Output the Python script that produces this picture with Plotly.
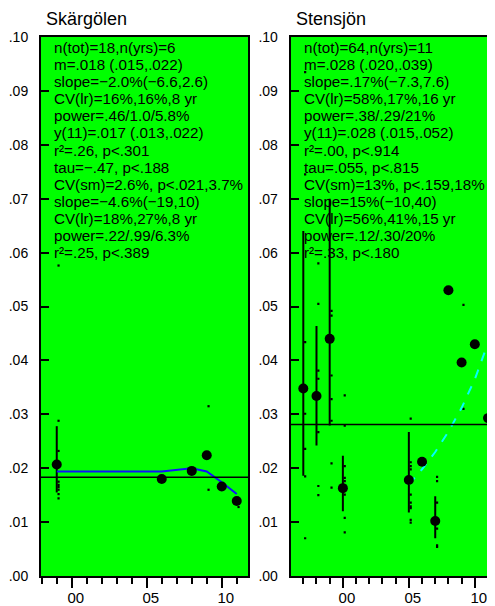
import plotly.graph_objects as go

# ---------------- data ----------------
titles = ["Skärgölen", "Stensjön"]

# Skärgölen (left)
years_L = [-1, 6, 8, 9, 10, 11]
means_L = [0.0207, 0.0180, 0.0195, 0.0224, 0.0166, 0.0139]
bar_years_L = [-1]
bar_lo_L = [0.0155]
bar_hi_L = [0.0278]
sample_years_L = [-1, -1, -1, -1, -1, -1, -1, -1, -1, -1, 9, 9, 11]
sample_vals_L = [0.0576, 0.0288, 0.0232, 0.0203, 0.0175, 0.0169, 0.0165, 0.0160, 0.0152, 0.0144,
                 0.0315, 0.0160, 0.0128]
smooth_years_L = [-1, 6, 8, 9, 10, 11]
smooth_vals_L = [0.0194, 0.0194, 0.0200, 0.0194, 0.0174, 0.0152]
grand_mean_L = 0.0183
stats_L = [
    "n(tot)=18,n(yrs)=6",
    "m=.018 (.015,.022)",
    "slope=−2.0%(−6.6,2.6)",
    "CV(lr)=16%,16%,8 yr",
    "power=.46/1.0/5.8%",
    "y(11)=.017 (.013,.022)",
    "r²=.26, p<.301",
    "tau=−.47, p<.188",
    "CV(sm)=2.6%, p<.021,3.7%",
    "slope=−4.6%(−19,10)",
    "CV(lr)=18%,27%,8 yr",
    "power=.22/.99/6.3%",
    "r²=.25, p<.389",
]

# Stensjön (right)
years_R = [-3, -2, -1, 0, 5, 6, 7, 8, 9, 10, 11]
means_R = [0.0348, 0.0334, 0.0440, 0.0163, 0.0178, 0.0212, 0.0102, 0.0530, 0.0396, 0.0430, 0.0293]
bar_years_R = [-3, -2, -1, 0, 5, 7]
bar_lo_R = [0.0186, 0.0242, 0.0279, 0.0120, 0.0118, 0.0070]
bar_hi_R = [0.0640, 0.0464, 0.0700, 0.0223, 0.0267, 0.0148]
sample_years_R = ([-3] * 7 + [-2] * 7 + [-1] * 7 + [0] * 8 + [5] * 10 + [7] * 6 + [9] * 2 + [11] * 2)
sample_vals_R = [
    0.0935, 0.0745, 0.0434, 0.0301, 0.0236, 0.0185, 0.0070,
    0.0580, 0.0505, 0.0381, 0.0366, 0.0267, 0.0167, 0.0150,
    0.0492, 0.0483, 0.0372, 0.0328, 0.0288, 0.0209, 0.0164,
    0.0335, 0.0279, 0.0204, 0.0182, 0.0176, 0.0151, 0.0108, 0.0081,
    0.0292, 0.0211, 0.0204, 0.0198, 0.0151, 0.0136, 0.0129, 0.0126, 0.0104, 0.0099,
    0.0184, 0.0176, 0.0136, 0.0088, 0.0057, 0.0054,
    0.0503, 0.0310,
    0.0343, 0.0251,
]
trend_years_R = [5, 6, 7, 8, 9, 10, 10.85]
trend_vals_R = [0.0170, 0.0198, 0.0230, 0.0268, 0.0312, 0.0365, 0.0422]
grand_mean_R = 0.0281
stats_R = [
    "n(tot)=64,n(yrs)=11",
    "m=.028 (.020,.039)",
    "slope=.17%(−7.3,7.6)",
    "CV(lr)=58%,17%,16 yr",
    "power=.38/.29/21%",
    "y(11)=.028 (.015,.052)",
    "r²=.00, p<.914",
    "tau=.055, p<.815",
    "CV(sm)=13%, p<.159,18%",
    "slope=15%(−10,40)",
    "CV(lr)=56%,41%,15 yr",
    "power=.12/.30/20%",
    "r²=.33, p<.180",
]

y_tickvals = [0.00, 0.01, 0.02, 0.03, 0.04, 0.05, 0.06, 0.07, 0.08, 0.09, 0.10]
y_ticktext = [".00", ".01", ".02", ".03", ".04", ".05", ".06", ".07", ".08", ".09", ".10"]
x_tickvals = [0, 5, 10]
x_ticktext = ["00", "05", "10"]
x_minorvals = list(range(-4, 13))

# ---------------- figure ----------------
# the page body has an 8px margin, so the figure is laid out in page coords minus 8
OFF = 8
W, H = 495 - OFF, 606 - OFF
FONT = "Liberation Sans, Arial, sans-serif"
GREEN = "#00ff00"

fig = go.Figure()


def seg_xy(xs, lo, hi):
    X, Y = [], []
    for x, a, b in zip(xs, lo, hi):
        X += [x, x, None]
        Y += [a, b, None]
    return X, Y


def add_panel(xa, ya, bar_years, lo, hi, s_years, s_vals, s_off, years, means,
              line_x, line_y, line_color, line_dash):
    bx, by = seg_xy(bar_years, lo, hi)
    fig.add_trace(go.Scatter(x=bx, y=by, mode="lines", line=dict(color="black", width=2),
                             xaxis=xa, yaxis=ya, hoverinfo="skip", showlegend=False))
    fig.add_trace(go.Scatter(x=[v + s_off for v in s_years], y=s_vals, mode="markers",
                             marker=dict(symbol="square", size=2.2, color="black", line=dict(width=0)),
                             xaxis=xa, yaxis=ya, showlegend=False))
    fig.add_trace(go.Scatter(x=line_x, y=line_y, mode="lines",
                             line=dict(color=line_color, width=2, dash=line_dash),
                             xaxis=xa, yaxis=ya, showlegend=False))
    fig.add_trace(go.Scatter(x=years, y=means, mode="markers",
                             marker=dict(symbol="circle", size=10, color="black", line=dict(width=0)),
                             xaxis=xa, yaxis=ya, showlegend=False))


add_panel("x", "y", bar_years_L, bar_lo_L, bar_hi_L, sample_years_L, sample_vals_L, 0.12,
          years_L, means_L, smooth_years_L, smooth_vals_L, "#1010ff", "solid")
add_panel("x2", "y2", bar_years_R, bar_lo_R, bar_hi_R, sample_years_R, sample_vals_R, 0.14,
          years_R, means_R, trend_years_R, trend_vals_R, "#00ffff", "dash")

# grand mean lines
for xr, yr, m in [("x domain", "y", grand_mean_L), ("x2 domain", "y2", grand_mean_R)]:
    fig.add_shape(type="line", xref=xr, yref=yr, x0=0, x1=1, y0=m, y1=m,
                  line=dict(color="black", width=1.5))

# stats text
LINE_H = 17.06
for xr, yr, lines in [("x domain", "y domain", stats_L), ("x2 domain", "y2 domain", stats_R)]:
    for i, t in enumerate(lines):
        fig.add_annotation(xref=xr, yref=yr, x=0, y=1, xanchor="left", yanchor="middle",
                           xshift=11, yshift=-(10.7 + i * LINE_H), text=t, showarrow=False,
                           font=dict(family=FONT, size=15.2, color="black"))

# panel titles
for xpix, t in [(44, titles[0]), (294, titles[1])]:
    fig.add_annotation(xref="paper", yref="paper", x=(xpix - OFF) / W, y=1 - (18.5 - OFF) / H,
                       xanchor="left", yanchor="middle", text=t, showarrow=False,
                       font=dict(family=FONT, size=18, color="black"))

ydom = [(H - (576 - OFF)) / H, (H - (37 - OFF)) / H]
xcommon = dict(tickvals=x_tickvals, ticktext=x_ticktext, ticks="outside", ticklen=10, tickwidth=1.5,
               tickcolor="black", showline=True, linecolor="black", linewidth=2, showgrid=False,
               zeroline=False, tickfont=dict(family=FONT, size=15, color="black"),
               minor=dict(tickvals=x_minorvals, ticks="outside", ticklen=6, tickwidth=1.5,
                          tickcolor="black", showgrid=False),
               ticklabelshift=4, ticklabelstandoff=-3, fixedrange=True)
ycommon = dict(range=[0, 0.10], tickvals=y_tickvals, ticktext=y_ticktext, ticks="inside", ticklen=8,
               tickwidth=2, tickcolor="black", showline=True, linecolor="black", linewidth=2,
               showgrid=False, zeroline=False, ticklabelstandoff=8,
               tickfont=dict(family=FONT, size=14, color="black"), fixedrange=True)

fig.update_layout(
    width=W, height=H,
    margin=dict(l=0, r=0, t=0, b=0, autoexpand=False),
    paper_bgcolor="white", plot_bgcolor=GREEN,
    showlegend=False,
    xaxis=dict(domain=[(41 - OFF) / W, (248 - OFF) / W], range=[-2.05, 11.75], mirror=True,
               anchor="y", **xcommon),
    yaxis=dict(domain=ydom, anchor="x", mirror=True, **ycommon),
    xaxis2=dict(domain=[(290.7 - OFF) / W, 1.0], range=[-3.955, 11.53], mirror=True,
                anchor="y2", **xcommon),
    yaxis2=dict(domain=ydom, anchor="x2", mirror=False, **ycommon),
)

fig.write_html("out.html")
